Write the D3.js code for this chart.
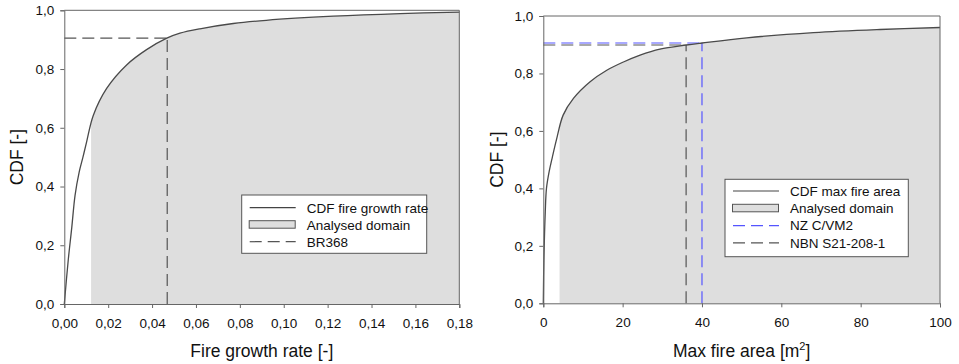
<!DOCTYPE html>
<html>
<head>
<meta charset="utf-8">
<script src="https://cdn.jsdelivr.net/npm/d3@7"></script>
<style>
  body { margin: 0; background: #fff; }
  svg { font-family: "Liberation Sans", Arial, sans-serif; }
</style>
</head>
<body>
<div id="chart"></div>
<script>
// CDF of fire growth rate (left panel)
const growthX = [0, 0.0018, 0.0034, 0.0049, 0.0068, 0.0085, 0.0102, 0.0132, 0.0193, 0.0284, 0.0375, 0.0467, 0.0527, 0.0618, 0.077, 0.092, 0.1226, 0.153, 0.18];
const growthCdf = [0, 0.15, 0.26, 0.37, 0.45, 0.50, 0.553, 0.642, 0.734, 0.814, 0.866, 0.905, 0.922, 0.937, 0.955, 0.966, 0.980, 0.989, 0.994];
const growthDomainStart = 0.0122;
const br368 = { x: 0.0469, y: 0.905 };
const growthTicks = [0, 0.02, 0.04, 0.06, 0.08, 0.10, 0.12, 0.14, 0.16, 0.18];
const growthLegend = ["CDF fire growth rate", "Analysed domain", "BR368"];

// CDF of max fire area (right panel)
const areaX = [0, 0.15, 0.5, 0.8, 1.5, 2.3, 3.4, 5.0, 7.6, 11.8, 16, 20.2, 24.4, 29.4, 36, 40, 51.3, 68.1, 84.9, 100];
const areaCdf = [0, 0.15, 0.32, 0.40, 0.46, 0.51, 0.574, 0.655, 0.713, 0.771, 0.811, 0.84, 0.864, 0.885, 0.899, 0.906, 0.924, 0.942, 0.953, 0.960];
const areaDomainStart = 4.1;
const nzCvm2 = { x: 40, y: 0.906 };
const nbn = { x: 36, y: 0.899 };
const areaTicks = [0, 20, 40, 60, 80, 100];
const areaLegend = ["CDF max fire area", "Analysed domain", "NZ C/VM2", "NBN S21-208-1"];

const cdfTicks = [0, 0.2, 0.4, 0.6, 0.8, 1.0];

const W = 959, H = 364;
const svg = d3.select("#chart").append("svg").attr("width", W).attr("height", H);

const comma = (digits) => (d) => d.toFixed(digits).replace(".", ",");
const DASH = "12,6";
const FONT = "'Liberation Sans', Arial, sans-serif";

function drawPanel(p) {
  const x = d3.scaleLinear().domain(p.xDomain).range(p.xRange);
  const y = d3.scaleLinear().domain([0, 1]).range(p.yRange);
  const g = svg.append("g");

  const pts = p.xs.map((v, i) => [v, p.ys[i]]);
  const smooth = d3.curveCatmullRom.alpha(0.5);
  const curve = d3.line().x(d => x(d[0])).y(d => y(d[1])).curve(smooth);

  // analysed domain: area under the cdf from the start value
  const i0 = p.xs.findIndex(v => v > p.domainStart);
  const t = (p.domainStart - p.xs[i0 - 1]) / (p.xs[i0] - p.xs[i0 - 1]);
  const y0 = p.ys[i0 - 1] + t * (p.ys[i0] - p.ys[i0 - 1]);
  const areaPts = [[p.domainStart, y0]].concat(pts.filter(d => d[0] > p.domainStart));
  g.append("path")
    .datum(areaPts)
    .attr("fill", "#dedede")
    .attr("d", d3.area().x(d => x(d[0])).y0(y(0)).y1(d => y(d[1])).curve(smooth));

  // reference dashed lines
  p.refs.forEach(r => {
    g.append("line")
      .attr("x1", x(p.xDomain[0])).attr("x2", x(r.x))
      .attr("y1", y(r.y)).attr("y2", y(r.y))
      .attr("stroke", r.color).attr("stroke-width", 1.2).attr("stroke-dasharray", DASH);
    g.append("line")
      .attr("x1", x(r.x)).attr("x2", x(r.x))
      .attr("y1", y(0)).attr("y2", y(r.y))
      .attr("stroke", r.color).attr("stroke-width", 1.2).attr("stroke-dasharray", DASH);
  });

  g.append("path")
    .datum(pts)
    .attr("fill", "none")
    .attr("stroke", "#4a4a4a")
    .attr("stroke-width", 1.3)
    .attr("d", curve);

  // frame
  g.append("path")
    .attr("d", `M${x(p.xDomain[0])},${y(1)}H${x(p.xDomain[1])}V${y(0)}`)
    .attr("fill", "none").attr("stroke", "#666");

  const xa = g.append("g")
    .attr("transform", `translate(0,${y(0)})`)
    .call(d3.axisBottom(x).tickValues(p.xTicks).tickFormat(p.xFormat).tickSize(4).tickPadding(10));
  const ya = g.append("g")
    .attr("transform", `translate(${x(p.xDomain[0])},0)`)
    .call(d3.axisLeft(y).tickValues(cdfTicks).tickFormat(comma(1)).tickSize(4).tickPadding(6));
  [xa, ya].forEach(a => {
    a.attr("font-family", FONT).attr("font-size", 13.5);
    a.selectAll("text").attr("fill", "#111");
    a.selectAll(".domain, .tick line").attr("stroke", "#666");
  });

  // titles
  const xt = g.append("text")
    .attr("x", (p.xRange[0] + p.xRange[1]) / 2).attr("y", 357)
    .attr("text-anchor", "middle").attr("font-size", 17.5).attr("fill", "#111");
  xt.append("tspan").text(p.xTitle);
  if (p.xTitleSup) {
    xt.append("tspan").attr("font-size", 11).attr("dy", -7).text(p.xTitleSup);
    xt.append("tspan").attr("dy", 7).text("]");
  }
  g.append("text")
    .attr("transform", `translate(${p.yTitleX},${(p.yRange[0] + p.yRange[1]) / 2}) rotate(-90)`)
    .attr("text-anchor", "middle").attr("font-size", 17.5).attr("fill", "#111")
    .text("CDF [-]");

  // legend
  const L = p.legend;
  const lg = g.append("g");
  lg.append("rect")
    .attr("x", L.x).attr("y", L.y).attr("width", L.w).attr("height", L.h)
    .attr("fill", "#fff").attr("stroke", "#555");
  L.items.forEach((it, k) => {
    const cy = L.firstRow + k * L.step;
    if (it.type === "fill") {
      lg.append("rect").attr("x", L.x + 7.5).attr("y", cy - 4).attr("width", 46).attr("height", 7.5)
        .attr("fill", "#dedede").attr("stroke", "#555");
    } else {
      lg.append("line").attr("x1", L.x + 8).attr("x2", L.x + 54).attr("y1", cy).attr("y2", cy)
        .attr("stroke", it.color).attr("stroke-width", 1.2)
        .attr("stroke-dasharray", it.type === "dash" ? DASH : null);
    }
    lg.append("text").attr("x", L.x + 65).attr("y", cy).attr("dy", "0.36em")
      .attr("font-size", 13.5).attr("fill", "#111").text(it.label);
  });
}

drawPanel({
  xs: growthX, ys: growthCdf, domainStart: growthDomainStart,
  xDomain: [0, 0.18], xRange: [64.3, 459.3], yRange: [304, 10.3],
  xTicks: growthTicks, xFormat: comma(2),
  xTitle: "Fire growth rate [-]", yTitleX: 22.5,
  refs: [{ x: br368.x, y: br368.y, color: "#555" }],
  legend: {
    x: 241.7, y: 195, w: 185, h: 58.3, firstRow: 207.7, step: 17,
    items: [
      { type: "line", color: "#444", label: growthLegend[0] },
      { type: "fill", label: growthLegend[1] },
      { type: "dash", color: "#555", label: growthLegend[2] }
    ]
  }
});

drawPanel({
  xs: areaX, ys: areaCdf, domainStart: areaDomainStart,
  xDomain: [0, 100], xRange: [543.3, 940], yRange: [303.3, 16],
  xTicks: areaTicks, xFormat: d => String(d),
  xTitle: "Max fire area [m", xTitleSup: "2", yTitleX: 502.5,
  refs: [
    { x: nbn.x, y: nbn.y, color: "#555" },
    { x: nzCvm2.x, y: nzCvm2.y, color: "#5555ff" }
  ],
  legend: {
    x: 725, y: 179.3, w: 183.3, h: 77.4, firstRow: 191, step: 17.3,
    items: [
      { type: "line", color: "#444", label: areaLegend[0] },
      { type: "fill", label: areaLegend[1] },
      { type: "dash", color: "#5555ff", label: areaLegend[2] },
      { type: "dash", color: "#555", label: areaLegend[3] }
    ]
  }
});
</script>
</body>
</html>
